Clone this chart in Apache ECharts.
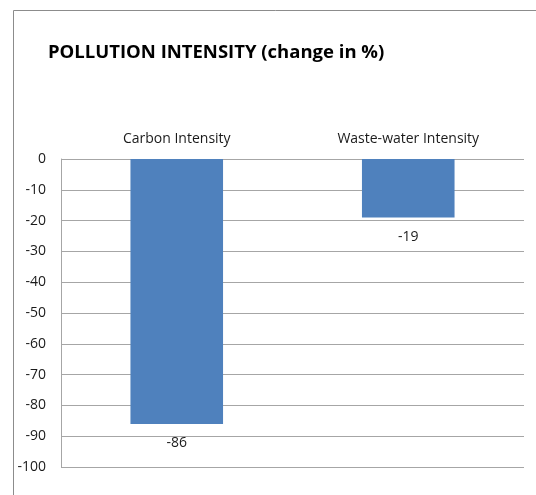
<!DOCTYPE html>
<html>
<head>
<meta charset="utf-8">
<script src="https://cdn.jsdelivr.net/npm/echarts@6/dist/echarts.min.js"></script>
<style>
  html, body { margin: 0; padding: 0; background: #fff; }
  #chart { width: 536px; height: 495px; }
</style>
</head>
<body>
<div id="chart"></div>
<script>
const categories = ['Carbon Intensity', 'Waste-water Intensity']
const values = [-86, -19]
const yTicks = { min: -100, max: 0, interval: 10 }

const chart = echarts.init(document.getElementById('chart'))

chart.setOption({
  animation: false,
  textStyle: { fontFamily: 'Open Sans' },
  graphic: [
    {
      type: 'rect',
      shape: { x: 13.5, y: 10.5, width: 600, height: 600 },
      style: { fill: 'none', stroke: '#8c8c8c', lineWidth: 1 },
      silent: true
    }
  ],
  title: {
    text: 'POLLUTION INTENSITY (change in %)',
    left: 43,
    top: 38,
    textStyle: { fontSize: 18.5, fontWeight: 'bold', color: '#000', fontFamily: 'Open Sans' }
  },
  grid: { left: 61, right: 12, top: 159, bottom: 28 },
  xAxis: {
    type: 'category',
    position: 'top',
    data: categories,
    axisLine: { show: false },
    axisTick: { show: false },
    axisLabel: { color: '#1a1a1a', fontSize: 14, margin: 13 }
  },
  yAxis: {
    type: 'value',
    min: yTicks.min,
    max: yTicks.max,
    interval: yTicks.interval,
    axisLine: { show: true, lineStyle: { color: '#a6a6a6' } },
    axisTick: { show: false },
    axisLabel: { color: '#1a1a1a', fontSize: 14, margin: 15 },
    splitLine: { lineStyle: { color: '#a6a6a6' } }
  },
  series: [
    {
      type: 'bar',
      data: values,
      barWidth: '40%',
      itemStyle: { color: '#4f81bd' },
      label: { show: true, position: 'bottom', color: '#1a1a1a', fontSize: 14, distance: 12 }
    }
  ]
})
</script>
</body>
</html>
